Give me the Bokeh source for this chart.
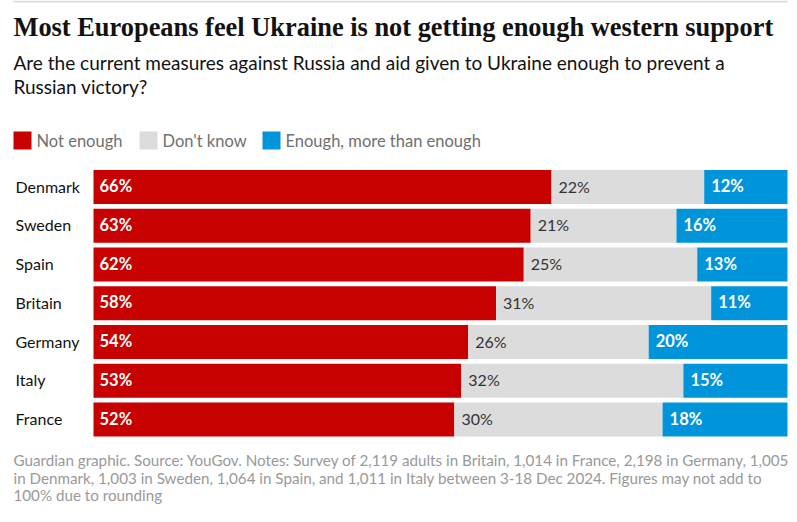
from bokeh.plotting import figure
from bokeh.models import ColumnDataSource, Range1d, Label, BoxAnnotation
from bokeh.core.properties import value
from bokeh.embed import file_html
from bokeh.resources import INLINE

countries = ["Denmark", "Sweden", "Spain", "Britain", "Germany", "Italy", "France"]
not_enough = [66, 63, 62, 58, 54, 53, 52]
dont_know = [22, 21, 25, 31, 26, 32, 30]
enough = [12, 16, 13, 11, 20, 15, 18]
series_names = ["Not enough", "Don't know", "Enough, more than enough"]
colors = ["#c70000", "#dcdcdc", "#0094da"]

title = "Most Europeans feel Ukraine is not getting enough western support"
subtitle = ["Are the current measures against Russia and aid given to Ukraine enough to prevent a",
            "Russian victory?"]
footer = ["Guardian graphic. Source: YouGov. Notes: Survey of 2,119 adults in Britain, 1,014 in France, 2,198 in Germany, 1,005",
          "in Denmark, 1,003 in Sweden, 1,064 in Spain, and 1,011 in Italy between 3-18 Dec 2024. Figures may not add to",
          "100% due to rounding"]

W, H = 792, 514
SANS = "Lato"
SERIF = "Liberation Serif"

ypos = list(range(len(countries)))
l1 = [0] * len(countries)
r1 = [a for a in not_enough]
l2 = r1
r2 = [a + b for a, b in zip(not_enough, dont_know)]
l3 = r2
r3 = [a + b + c for a, b, c in zip(not_enough, dont_know, enough)]

src = ColumnDataSource(dict(
    y=ypos, country=countries,
    l1=l1, r1=r1, l2=l2, r2=r2, l3=l3, r3=r3,
    t1=[f"{v}%" for v in not_enough],
    t2=[f"{v}%" for v in dont_know],
    t3=[f"{v}%" for v in enough],
))

px_per_unit = 6.94
x0_px = 93
pitch = 38.75
ymin = -186.5 / pitch
ymax = ymin + H / pitch
xmin = -x0_px / px_per_unit
xmax = xmin + W / px_per_unit

p = figure(width=W, height=H, output_backend="svg", toolbar_location=None,
           x_range=Range1d(xmin, xmax), y_range=Range1d(ymax, ymin),
           min_border=0, outline_line_color=None)
p.axis.visible = False
p.grid.visible = False
p.background_fill_color = "white"
p.border_fill_color = "white"

bh = 0.875
p.hbar(y="y", left="l1", right="r1", height=bh, color=colors[0], line_color=None, source=src)
p.hbar(y="y", left="l2", right="r2", height=bh, color=colors[1], line_color=None, source=src)
p.hbar(y="y", left="l3", right="r3", height=bh, color=colors[2], line_color=None, source=src)

p.text(x="l1", y="y", text="t1", x_offset=6, y_offset=-1, text_baseline="middle", text_align="left",
       text_color="white", text_font_style="bold", text_font_size="16.5px", text_font=value(SANS), source=src)
p.text(x="l2", y="y", text="t2", x_offset=7, y_offset=-1, text_baseline="middle", text_align="left",
       text_color="#333333", text_font_size="16px", text_font=value(SANS), source=src)
p.text(x="l3", y="y", text="t3", x_offset=7, y_offset=-1, text_baseline="middle", text_align="left",
       text_color="white", text_font_style="bold", text_font_size="16.5px", text_font=value(SANS), source=src)
p.text(x="l1", y="y", text="country", x_offset=-78, y_offset=-1, text_baseline="middle", text_align="left",
       text_color="#121212", text_font_size="16px", text_font=value(SANS), source=src)

# top rule
p.add_layout(BoxAnnotation(left=13, right=787, top=H - 0, bottom=H - 2, left_units="screen",
                           right_units="screen", top_units="screen", bottom_units="screen",
                           fill_color="#dcdcdc", fill_alpha=1, line_color=None))

p.add_layout(Label(x=13, y=H - 26, x_units="screen", y_units="screen", text=title,
                   text_font=SERIF, text_font_size="26.4px", text_font_style="bold",
                   text_color="#121212", text_baseline="middle"))
for i, line in enumerate(subtitle):
    p.add_layout(Label(x=13, y=H - 62 - 24 * i, x_units="screen", y_units="screen", text=line,
                       text_font=SANS, text_font_size="19px", text_color="#121212",
                       text_baseline="middle"))

leg_x = [13, 139, 262]
for nm, c, lx in zip(series_names, colors, leg_x):
    p.add_layout(BoxAnnotation(left=lx, right=lx + 18, top=H - 131, bottom=H - 149,
                               left_units="screen", right_units="screen", top_units="screen",
                               bottom_units="screen", fill_color=c, fill_alpha=1, line_color=None))
    p.add_layout(Label(x=lx + 23, y=H - 140, x_units="screen", y_units="screen", text=nm,
                       text_font=SANS, text_font_size="16.5px", text_color="#707070",
                       text_baseline="middle"))

for i, line in enumerate(footer):
    p.add_layout(Label(x=13, y=H - 459.5 - 17.5 * i, x_units="screen", y_units="screen", text=line,
                       text_font=SANS, text_font_size="15.2px", text_color="#999999",
                       text_baseline="middle"))

open("out.html", "w").write(file_html(p, INLINE))
